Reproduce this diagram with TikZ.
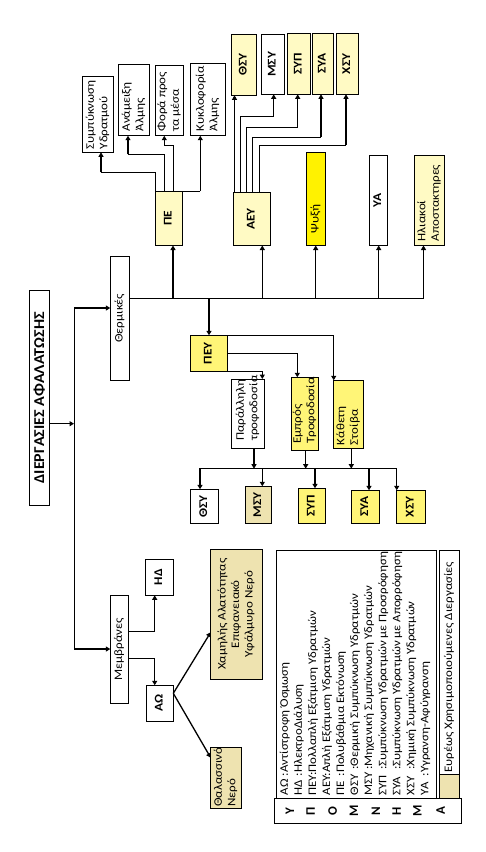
\documentclass[tikz,border=0pt]{standalone}
\usepackage{graphicx}
\usepackage{fontspec}
\setmainfont{Carlito}
\usetikzlibrary{arrows.meta}
\definecolor{lyel}{HTML}{FFFAC4}
\definecolor{myel}{HTML}{FFF577}
\definecolor{byel}{HTML}{FFF200}
\definecolor{tanc}{HTML}{EEE3B0}
\newcommand{\sx}{1.13}
\newcommand{\CT}[1]{\rotatebox{90}{\scalebox{\sx}[1]{\begin{tabular}{@{}c@{}}#1\end{tabular}}}}
\newcommand{\CTt}[1]{\rotatebox{90}{\scalebox{1.07}[1]{#1}}}
\newcommand{\LT}[2]{\rotatebox{90}{\makebox[#1][l]{\scalebox{\sx}[1]{\begin{tabular}{@{}l@{}}#2\end{tabular}}}}}
\newcommand{\bx}[7]{\node[box,#6,minimum width={(#4-#2)*1pt},minimum height={(#5-#3)*1pt}] (#1) at ({(#2+#4)/2},{(#3+#5)/2}) {#7};}
\tikzset{
  box/.style={draw, line width=0.8pt, inner sep=0pt, outer sep=0pt, fill=white, font=\fontsize{11.5}{13.5}\selectfont},
  bf/.style={font=\fontsize{11.8}{13.5}\selectfont\bfseries},
  titlef/.style={font=\fontsize{15}{17}\selectfont\bfseries},
  ln/.style={line width=0.7pt},
  lnar/.style={line width=0.7pt, -{Triangle[length=4.5pt,width=5pt]}},
  ar/.style={line width=1.3pt, -{Triangle[length=4.5pt,width=5pt]}},
  busl/.style={line width=1.3pt, line cap=rect},
}
\begin{document}
\begin{tikzpicture}[x=1pt,y=-1pt]
\fill[white] (0,0) rectangle (485,852);
\useasboundingbox (0,0) rectangle (485,852);
% boxes
\bx{sym}{82.7}{76.3}{113.3}{152.3}{}{\LT{70pt}{Συμπύκνωση\\Υδρατμού}}
\bx{anam}{118.3}{64.3}{149.3}{135.7}{}{\LT{63pt}{Ανάμειξη\\Άλμης}}
\bx{fora}{155.3}{65.3}{183.3}{135.7}{}{\LT{62pt}{Φορά προς\\τα μέσα}}
\bx{kykl}{190.3}{63.3}{225.3}{135.7}{}{\LT{64pt}{Κυκλοφορία\\Άλμης}}
\bx{pe}{155.3}{191}{182.3}{245.5}{fill=lyel,bf}{\CT{ΠΕ}}
\bx{thsy1}{231.3}{34.3}{256.3}{95.3}{fill=lyel,bf}{\CT{ΘΣΥ}}
\bx{msy1}{261.3}{34.3}{284.3}{94.3}{bf}{\CT{ΜΣΥ}}
\bx{syp1}{287.3}{33.3}{310.3}{94.3}{fill=lyel,bf}{\CT{ΣΥΠ}}
\bx{sya1}{312.3}{33.3}{333.3}{94.3}{fill=lyel,bf}{\CT{ΣΥΑ}}
\bx{xsy1}{336.3}{33.3}{358.3}{94.3}{fill=lyel,bf}{\CT{ΧΣΥ}}
\bx{aey}{233.3}{192.3}{270.3}{245.5}{fill=lyel,bf}{\CT{ΑΕΥ}}
\bx{psy}{306.7}{152.7}{325.3}{245.5}{fill=byel}{\LT{69pt}{Ψυξή}}
\bx{ya}{369.3}{155.3}{387.3}{245.5}{bf}{\CT{ΥΑ}}
\bx{ilia}{414.7}{155.3}{444.3}{245.5}{fill=lyel}{\LT{82pt}{Ηλιακοί\\Αποστακτηρες}}
\bx{title}{29.3}{290.3}{49.3}{505.3}{titlef}{\CTt{ΔΙΕΡΓΑΣΙΕΣ ΑΦΑΛΑΤΩΣΗΣ}}
\bx{therm}{110.3}{256.3}{129.3}{380.3}{}{\CT{Θερμικές}}
\bx{pey}{190.3}{335.3}{227.3}{371.3}{fill=myel,bf}{\CT{ΠΕΥ}}
\bx{par}{231.3}{379}{264.3}{448.7}{}{\LT{54pt}{Παράλληλη\\τροφοδοσία}}
\bx{emp}{291.3}{377.3}{318.3}{450.3}{fill=myel}{\LT{60pt}{Εμπρός\\Τροφοδοσία}}
\bx{kath}{333.3}{380.3}{363.3}{448.7}{fill=myel}{\LT{61pt}{Κάθετη\\Στοίβα}}
\bx{thsy2}{190.3}{489.3}{218.3}{523.3}{bf}{\CT{ΘΣΥ}}
\bx{msy2}{245.3}{486.3}{271.3}{523.3}{fill=tanc,bf}{\CT{ΜΣΥ}}
\bx{syp2}{298.3}{488.3}{325.3}{523.3}{fill=myel,bf}{\CT{ΣΥΠ}}
\bx{sya2}{351.3}{490.3}{379.3}{523.3}{fill=myel,bf}{\CT{ΣΥΑ}}
\bx{xsy2}{396.3}{490.3}{425.3}{523.3}{fill=myel,bf}{\CT{ΧΣΥ}}
\bx{memb}{110.3}{595.3}{128.3}{703.3}{}{\CT{Μεμβράνες}}
\bx{hd}{145.3}{559.3}{173.3}{595.3}{bf}{\CT{ΗΔ}}
\bx{ao}{146.3}{685.3}{173.3}{721.3}{bf}{\CT{ΑΩ}}
\bx{xam}{210.7}{549.3}{262.3}{679}{fill=tanc}{\CT{Χαμηλής Αλατότητας\\Επιφανειακό\\Υφάλμυρο Νερό}}
\bx{thal}{210.7}{747.3}{241.3}{808.3}{fill=tanc}{\LT{58pt}{Θαλασσινό\\Νερό}}
\bx{leg}{276}{550}{436.5}{798.7}{}{}
\bx{strip}{274}{798.7}{461}{823.3}{}{}
\bx{eur}{439.3}{550}{459.5}{774.3}{}{\LT{221pt}{Ευρέως Χρησιμοποιούμενες Διεργασίες}}
\bx{tanb}{439.3}{774.3}{459.5}{798.7}{fill=tanc}{}
% legend text
\node[anchor=south west, inner sep=0pt, font=\fontsize{11.5}{14.05}\selectfont] (legtext) at (277.9,795.5)
 {\rotatebox{90}{\scalebox{1.12}[1]{\begin{tabular}{@{}l@{}}
 \makebox[17pt][l]{ΑΩ }:Αντίστροφη Όσμωση\\
 \makebox[17pt][l]{ΗΔ }:ΗλεκτροΔιάλυση\\
 ΠΕΥ:Πολλαπλή Εξάτμιση Υδρατμών\\
 ΑΕΥ:Απλή Εξάτμιση Υδρατμών\\
 \makebox[17pt][l]{ΠΕ }:Πολυβάθμια Εκτόνωση\\
 \makebox[23pt][l]{ΘΣΥ }:Θερμική Συμπύκνωση Υδρατμών\\
 \makebox[23pt][l]{ΜΣΥ }:Μηχανική Συμπύκνωση Υδρατμών\\
 \makebox[23pt][l]{ΣΥΠ }:Συμπύκνωση Υδρατμών με Προσρόφηση\\
 \makebox[23pt][l]{ΣΥΑ }:Συμπύκνωση Υδρατμών με Απορρόφηση\\
 \makebox[23pt][l]{ΧΣΥ }:Χημική Συμπύκνωση Υδρατμών\\
 \makebox[17pt][l]{ΥΑ }:Υγρανση-Αφύγρανση
 \end{tabular}}}};
\foreach \l/\x [count=\i] in {Υ/290,Π/310.7,Ο/332.7,Μ/354,Ν/376,Η/396.7,Μ/417.3,Α/440.7}
  \node[inner sep=0pt, font=\fontsize{13}{15}\selectfont\bfseries] (um\i) at (\x,811) {\rotatebox{90}{\l}};
% main trunk
\coordinate (tj) at (74,423.7);
\coordinate (tk1) at (74,308);
\coordinate (tk2) at (74,649);
\draw[ar] (title.east |- tj) -- (tj);
\draw[ln] (tk1) -- (tk2);
\draw[ar] (tk1) -- (therm.west |- tk1);
\draw[ar] (tk2) -- (memb.west |- tk2);
% thermal bus
\coordinate (b0) at (therm.east |- 0,298.5);
\coordinate (b1) at (423.5,298.5);
\draw[ln] (b0) -- (b1);
\draw[ar] (173,298.5) -- (173,0 |- pe.south);
\draw[ar] (262.3,298.5) -- (262.3,0 |- aey.south);
\draw[ar] (315.7,298.5) -- (315.7,0 |- psy.south);
\draw[ar] (378.7,298.5) -- (378.7,0 |- ya.south);
\draw[ar] (b1) -- (423.5,0 |- ilia.south);
\draw[ar] (209,298.5) -- (209,0 |- pey.north);
% PE group
\draw[ln] (pe.north west) |- (101,172.3);
\draw[ar] (101,172.3) -- (101,0 |- sym.south);
\draw[ln] (164.3,0 |- pe.north) |- (128,154.3);
\draw[ar] (128,154.3) -- (128,0 |- anam.south);
\draw[ln] (173,0 |- pe.north) |- (164.3,145.3);
\draw[ar] (164.3,145.3) -- (164.3,0 |- fora.south);
\draw[ln] (pe.north east) -- (200.3,0 |- pe.north);
\draw[ar] (200.3,0 |- pe.north) -- (200.3,0 |- kykl.south);
% AEY group
\draw[lnar] (234.5,0 |- aey.north) -- (234.5,0 |- thsy1.south);
\draw[ln] (240.7,0 |- aey.north) |- (273.7,116.3);
\draw[ar] (273.7,116.3) -- (273.7,0 |- msy1.south);
\draw[ln] (246,0 |- aey.north) |- (297.7,127);
\draw[ar] (297.7,127) -- (297.7,0 |- syp1.south);
\draw[ln] (252.5,0 |- aey.north) |- (321,137);
\draw[ar] (321,137) -- (321,0 |- sya1.south);
\draw[ln] (259.5,0 |- aey.north) |- (346,145);
\draw[ar] (346,145) -- (346,0 |- xsy1.south);
% PEY group
\draw[ln] (pey.north east) -- (333.7,0 |- pey.north);
\draw[ar] (333.7,0 |- pey.north) -- (333.7,0 |- kath.north);
\draw[ln] (pey.east) -- (297.3,0 |- pey.east);
\draw[ar] (297.3,0 |- pey.east) -- (297.3,0 |- emp.north);
\draw[ln] (pey.south east) -- (262.3,0 |- pey.south east);
\draw[ar] (262.3,0 |- pey.south east) -- (262.3,0 |- par.north);
\coordinate (c0) at (200,468.7);
\coordinate (c1) at (396.7,468.7);
\draw[ar] (254,0 |- par.south) -- (254,468.7);
\draw[ar] (305.7,0 |- emp.south) -- (305.7,468.7);
\draw[ar] (351.3,0 |- kath.south) -- (351.3,468.7);
\draw[busl] (c0) -- (c1);
\draw[ar] (c0) -- (200,0 |- thsy2.north);
\draw[ar] (262.3,468.7) -- (262.3,0 |- msy2.north);
\draw[ar] (315,468.7) -- (315,0 |- syp2.north);
\draw[ar] (369,468.7) -- (369,0 |- sya2.north);
\draw[ar] (c1) -- (396.7,0 |- xsy2.north);
% membranes
\draw[ln] (memb.east |- 0,631.3) -- (154.7,631.3);
\draw[ar] (154.7,631.3) -- (154.7,0 |- hd.south);
\draw[ln] (memb.east |- 0,658) -- (154.7,658);
\draw[ar] (154.7,658) -- (154.7,0 |- ao.north);
\draw[ar] (ao.east |- 0,693.3) -- (xam.west |- 0,632.3);
\draw[ar] (ao.east |- 0,693.3) -- (thal.west |- 0,757.7);
\end{tikzpicture}
\end{document}
